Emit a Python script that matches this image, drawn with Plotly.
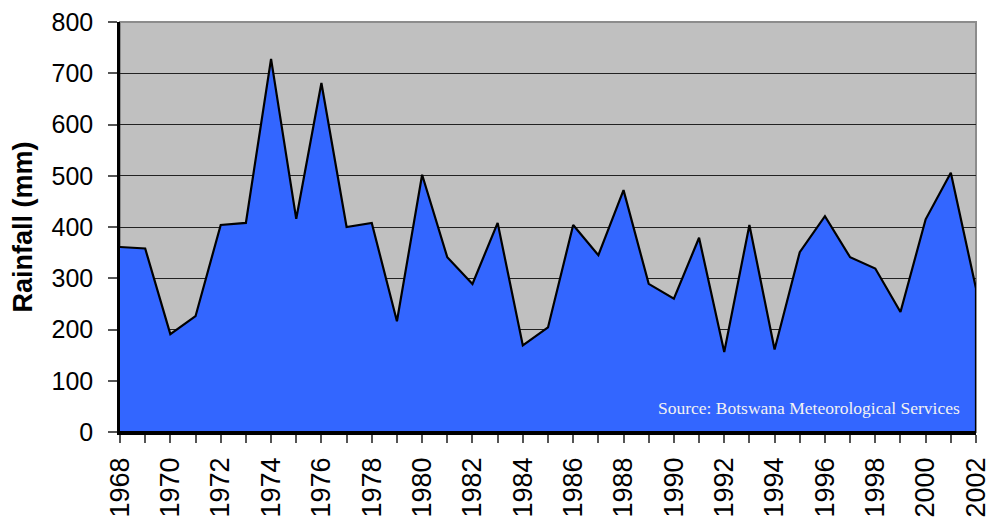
import plotly.graph_objects as go

years = list(range(1968, 2003))
rainfall = [361, 358, 191, 226, 404, 408, 728, 416, 681, 400,
            408, 216, 502, 341, 289, 408, 169, 204, 404, 345,
            472, 289, 260, 379, 156, 404, 161, 351, 421, 341,
            319, 234, 415, 506, 280]
y_ticks = [0, 100, 200, 300, 400, 500, 600, 700, 800]
x_ticks = list(range(1968, 2003, 2))
source_text = "Source: Botswana Meteorological Services"
y_title = "Rainfall (mm)"

# closed polygon of the area (data + baseline back to start)
poly_x = years + [years[-1], years[0]]
poly_y = rainfall + [0, 0]

fig = go.Figure()
fig.add_trace(go.Scatter(
    x=poly_x, y=poly_y, mode="lines", fill="toself",
    fillcolor="#3366ff", line=dict(color="black", width=2.2),
    hoverinfo="skip", showlegend=False))

fig.update_layout(
    width=991, height=519,
    margin=dict(l=120, r=15, t=22, b=87),
    paper_bgcolor="white", plot_bgcolor="#c0c0c0",
    font=dict(family="Liberation Sans, Arial, sans-serif", color="black"),
    showlegend=False,
)
fig.update_xaxes(
    range=[1968, 2002], tickvals=x_ticks, ticktext=[str(t) for t in x_ticks],
    tickangle=-90, tickfont=dict(size=27), automargin=False,
    ticklabeloverflow="allow",
    ticks="outside", ticklen=8, tickcolor="#555", tickwidth=1.5,
    ticklabelstandoff=4,
    minor=dict(dtick=1, ticks="outside", ticklen=8, tickcolor="#555", tickwidth=1.5, showgrid=False),
    showgrid=False, zeroline=False,
    showline=True, linecolor="black", linewidth=2.5,
)
fig.update_yaxes(
    range=[0, 800], tickvals=y_ticks, tickfont=dict(size=25), automargin=False,
    ticks="outside", ticklen=9, tickcolor="#555", tickwidth=1.5,
    ticklabelstandoff=10,
    showgrid=True, gridcolor="#222", gridwidth=1, zeroline=False,
    showline=True, linecolor="black", linewidth=2.5,
    title=dict(text="<b>" + y_title + "</b>", font=dict(size=27), standoff=12),
)
fig.add_shape(type="rect", xref="paper", yref="paper", x0=0, y0=0, x1=1, y1=1,
              line=dict(color="#8c8c8c", width=2), layer="below")
fig.add_annotation(text=source_text, xref="paper", yref="paper",
                   x=0.9836, y=0.058, xanchor="right", yanchor="middle",
                   showarrow=False,
                   font=dict(family="Liberation Serif, Times New Roman, serif", size=17.5, color="#f2f2f2"))
fig.write_html("out.html", config={"displayModeBar": False},
               post_script="document.body.style.margin='0px';document.body.style.overflow='hidden';")
